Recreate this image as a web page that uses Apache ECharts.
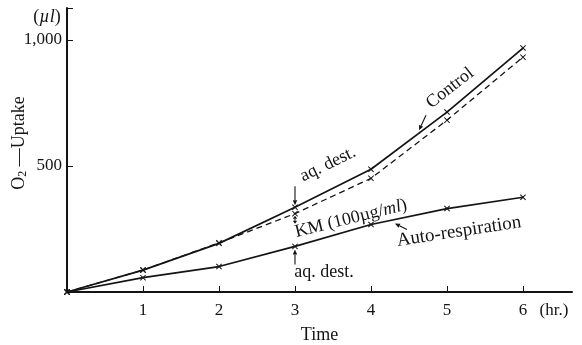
<!DOCTYPE html>
<html>
<head>
<meta charset="utf-8">
<script src="https://cdn.jsdelivr.net/npm/echarts@6/dist/echarts.min.js"></script>
<style>
  html, body { margin: 0; padding: 0; background: #fff; }
  #chart { width: 582px; height: 345px; }
</style>
</head>
<body>
<div id="chart"></div>
<script>
// Time course of O2 uptake (µl)
const hours = [0, 1, 2, 3, 4, 5, 6];
const controlUptake = [0, 87, 193, 336, 487, 714, 968];
const kmUptake = [0, 87, 195, 311, 451, 682, 932];
const autoRespiration = [0, 57, 101, 181, 268, 331, 376];
const yTicks = [500, 1000];

const FONT = '"Liberation Serif", "DejaVu Serif", serif';
const INK = '#141414';
const CROSS = 'path://M0,1.2L1.2,0L5,3.8L8.8,0L10,1.2L6.2,5L10,8.8L8.8,10L5,6.2L1.2,10L0,8.8L3.8,5Z';

const pairs = (ys) => hours.map((h, i) => [h, ys[i]]);

function series(name, ys, dashed) {
  return {
    name, type: 'line', data: pairs(ys),
    symbol: CROSS, symbolSize: 6, showSymbol: true,
    itemStyle: { color: INK },
    lineStyle: { color: INK, width: dashed ? 1.3 : 1.7, type: dashed ? [6, 4] : 'solid' },
    emphasis: { disabled: true }, z: dashed ? 3 : 4
  };
}

const chart = echarts.init(document.getElementById('chart'), null, { renderer: 'canvas' });
chart.setOption({
  animation: false,
  backgroundColor: '#fff',
  textStyle: { fontFamily: FONT, color: INK },
  grid: { left: 67, right: 10, top: 8, bottom: 53, containLabel: false, outerBoundsMode: 'none' },
  xAxis: {
    type: 'value', min: 0, max: 6.645, interval: 1,
    name: 'Time', nameLocation: 'middle', nameGap: 34, nameMoveOverlap: false,
    nameTextStyle: { fontFamily: FONT, fontSize: 18, color: INK },
    axisLine: { lineStyle: { color: INK, width: 2 } },
    axisTick: { inside: true, length: 6, lineStyle: { color: INK, width: 1 } },
    axisLabel: { fontFamily: FONT, fontSize: 17, color: INK, margin: 10,
      showMinLabel: false, showMaxLabel: false,
      formatter: (v) => (hours.includes(v) && v > 0 ? String(v) : '') },
    splitLine: { show: false }
  },
  yAxis: {
    type: 'value', min: 0, max: 1127, interval: 500,
    name: 'O{sub|2} —Uptake', nameLocation: 'middle', nameGap: 38, nameRotate: 90, nameMoveOverlap: false,
    nameTextStyle: { fontFamily: FONT, fontSize: 18, color: INK, padding: [0, 0, 0, 14],
      rich: { sub: { fontFamily: FONT, fontSize: 12, color: INK, verticalAlign: 'bottom', padding: [7, 0, 0, 0] } } },
    axisLine: { lineStyle: { color: INK, width: 2 } },
    axisTick: { inside: true, length: 6, lineStyle: { color: INK, width: 1 } },
    axisLabel: { fontFamily: FONT, fontSize: 17, color: INK, margin: 5,
      formatter: (v) => (yTicks.includes(v) ? v.toLocaleString('en-US') : '') },
    splitLine: { show: false }
  },
  series: [
    series('Control', controlUptake, false),
    series('KM (100µg/ml)', kmUptake, true),
    series('Auto-respiration', autoRespiration, false)
  ]
});

// Annotations placed relative to the data points they describe
const px = (x, y) => chart.convertToPixel({ gridIndex: 0 }, [x, y]);

function label(text, at, dx, dy, rotDeg, size) {
  return {
    type: 'text', x: at[0] + dx, y: at[1] + dy, rotation: rotDeg * Math.PI / 180,
    style: { text, fill: INK, font: `${size}px ${FONT}`, align: 'center', verticalAlign: 'middle' },
    z: 10
  };
}

function arrow(x1, y1, x2, y2, head) {
  const a = Math.atan2(y2 - y1, x2 - x1), h = head || 5, w = 2.2;
  const bx = x2 - h * Math.cos(a), by = y2 - h * Math.sin(a);
  const nx = -Math.sin(a) * w, ny = Math.cos(a) * w;
  return [
    { type: 'line', shape: { x1, y1, x2: bx, y2: by }, style: { stroke: INK, lineWidth: 1.1 }, z: 10 },
    { type: 'polygon', shape: { points: [[x2, y2], [bx + nx, by + ny], [bx - nx, by - ny]] }, style: { fill: INK }, z: 10 }
  ];
}

const c3 = px(3, controlUptake[3]);
const k3 = px(3, kmUptake[3]);
const a3 = px(3, autoRespiration[3]);
const c4 = px(4, controlUptake[4]);
const c5 = px(5, controlUptake[5]);
const a4 = px(4, autoRespiration[4]);
const a5 = px(5, autoRespiration[5]);
const x6 = px(6, 0);
const yTop = px(0, 1127);

chart.setOption({
  graphic: [
    // unit above the y axis
    { type: 'text', x: 47, y: yTop[1] + 9,
      style: { text: '({i|µl})', fill: INK, font: `18px ${FONT}`, align: 'center', verticalAlign: 'middle',
        rich: { i: { font: `italic 18px ${FONT}`, fill: INK } } }, z: 10 },
    // hour unit at the end of the x axis
    { type: 'text', x: x6[0] + 31, y: x6[1] + 19,
      style: { text: '(hr.)', fill: INK, font: `17px ${FONT}`, align: 'center', verticalAlign: 'middle' }, z: 10 },
    label('aq. dest.', c3, 33, -43, 26, 18),
    label('Control', c5, 3, -24, 38, 18),
    label('Auto-respiration', a5, 12, 23, 8.6, 19),
    label('aq. dest.', a3, 29, 26, 0, 18),
    {
      type: 'text', x: k3[0] + 56, y: k3[1] + 5, rotation: 14 * Math.PI / 180,
      style: { text: 'KM (100µg/{i|ml})', fill: INK, font: `18px ${FONT}`, align: 'center', verticalAlign: 'middle',
        rich: { i: { font: `italic 18px ${FONT}`, fill: INK } } },
      z: 10
    },
    ...arrow(c3[0], c3[1] - 21, c3[0], c3[1] - 2),
    ...arrow(a3[0], a3[1] + 18, a3[0], a3[1] + 3),
    ...arrow(k3[0], k3[1] + 6, k3[0], k3[1] + 2, 3),
    ...arrow(k3[0], k3[1] + 6, k3[0], k3[1] + 10, 3),
    ...arrow(c4[0] + 55, c4[1] - 54, c4[0] + 48, c4[1] - 39),
    ...arrow(a4[0] + 36, a4[1] + 5, a4[0] + 24, a4[1] - 1)
  ]
});
</script>
</body>
</html>
